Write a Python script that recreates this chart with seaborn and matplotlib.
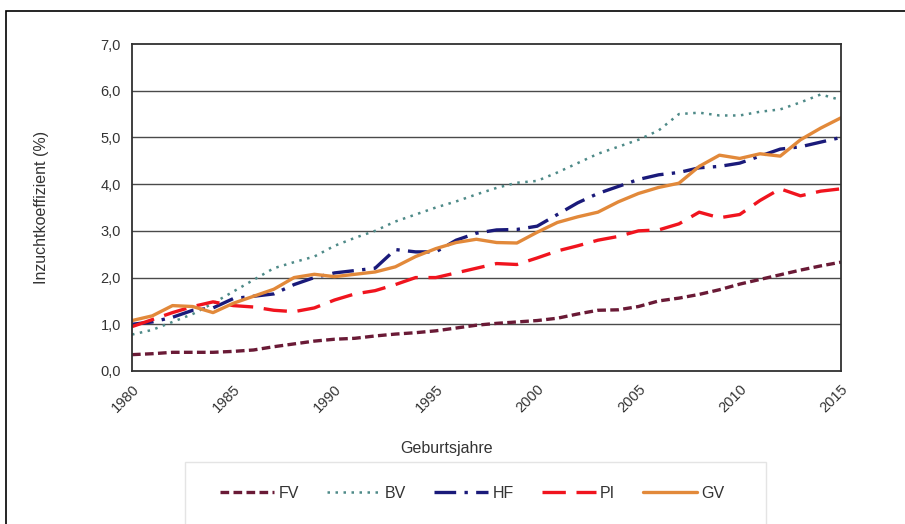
import numpy as np
import pandas as pd
import matplotlib
matplotlib.use("Agg")
import matplotlib.pyplot as plt
from matplotlib.patches import Rectangle
from matplotlib.ticker import FuncFormatter
import seaborn as sns

years = list(range(1980, 2016))
FV = [0.35, 0.37, 0.40, 0.40, 0.40, 0.42, 0.45, 0.52, 0.58, 0.64, 0.68, 0.70, 0.75, 0.79, 0.82, 0.86,
      0.92, 0.98, 1.02, 1.05, 1.08, 1.13, 1.22, 1.30, 1.31, 1.38, 1.50, 1.56, 1.64, 1.74, 1.86, 1.96,
      2.06, 2.16, 2.25, 2.33]
BV = [0.78, 0.88, 1.05, 1.22, 1.45, 1.70, 1.95, 2.20, 2.33, 2.45, 2.68, 2.85, 3.00, 3.20, 3.35, 3.50,
      3.63, 3.78, 3.92, 4.03, 4.07, 4.25, 4.45, 4.65, 4.80, 4.95, 5.15, 5.50, 5.53, 5.47, 5.47, 5.55,
      5.60, 5.75, 5.92, 5.80]
HF = [1.00, 1.05, 1.15, 1.30, 1.35, 1.55, 1.60, 1.65, 1.85, 2.00, 2.10, 2.15, 2.20, 2.60, 2.55, 2.55,
      2.80, 2.95, 3.02, 3.03, 3.10, 3.35, 3.60, 3.80, 3.95, 4.10, 4.20, 4.25, 4.35, 4.38, 4.45, 4.60,
      4.75, 4.80, 4.90, 5.00]
PI = [0.95, 1.10, 1.25, 1.38, 1.48, 1.40, 1.37, 1.30, 1.27, 1.35, 1.52, 1.65, 1.72, 1.85, 2.00, 2.00,
      2.10, 2.20, 2.30, 2.28, 2.42, 2.57, 2.68, 2.80, 2.88, 3.00, 3.02, 3.15, 3.40, 3.28, 3.35, 3.65,
      3.90, 3.75, 3.85, 3.90]
GV = [1.08, 1.18, 1.40, 1.38, 1.25, 1.45, 1.60, 1.75, 2.00, 2.07, 2.02, 2.07, 2.12, 2.23, 2.45, 2.62,
      2.75, 2.82, 2.75, 2.74, 2.97, 3.18, 3.30, 3.40, 3.62, 3.80, 3.93, 4.02, 4.38, 4.62, 4.55, 4.65,
      4.60, 4.95, 5.20, 5.42]

series_names = ["FV", "BV", "HF", "PI", "GV"]
series_values = [FV, BV, HF, PI, GV]
y_ticks = [0, 1, 2, 3, 4, 5, 6, 7]
x_label_years = [1980, 1985, 1990, 1995, 2000, 2005, 2010, 2015]

df = pd.DataFrame({"Jahr": years * len(series_names),
                   "Wert": sum(series_values, []),
                   "Serie": sum([[n] * len(years) for n in series_names], [])})

sns.set_theme(style="white")
plt.rcParams["font.family"] = ["Liberation Sans Narrow", "Liberation Sans", "DejaVu Sans"]

W, H = 905, 524
fig = plt.figure(figsize=(W / 100, H / 100), dpi=100)
fig.patch.set_facecolor("white")
ax = fig.add_axes([132 / W, 1 - 371 / H, (841 - 132) / W, (371 - 44) / H])

styles = {
    "FV": dict(color="#6A1A36", lw=2.4, ls=(0, (2.6, 1.3))),
    "BV": dict(color="#4E8A88", lw=1.8, ls=(0, (1.0, 2.2))),
    "HF": dict(color="#1A1A7A", lw=2.4, ls=(0, (6.5, 2.5, 1.0, 2.5))),
    "PI": dict(color="#F0141E", lw=2.4, ls=(0, (7.0, 3.2))),
    "GV": dict(color="#E2893A", lw=2.4, ls="-"),
}

for name in series_names:
    st = styles[name]
    sub = df[df["Serie"] == name]
    sns.lineplot(data=sub, x="Jahr", y="Wert", ax=ax, color=st["color"], linewidth=st["lw"],
                 linestyle=st["ls"], label=name, legend=False)

txt_col = "#333333"
ax.set_xlim(1980, 2015)
ax.set_ylim(0, 7)
ax.set_yticks(y_ticks)
ax.yaxis.set_major_formatter(FuncFormatter(lambda v, p: f"{v:.1f}".replace(".", ",")))
ax.set_xticks(years)
ax.set_xticklabels([str(y) if y in x_label_years else "" for y in years])
for lab in ax.get_xticklabels():
    lab.set_rotation(45)
    lab.set_ha("right")
    lab.set_rotation_mode("anchor")
ax.tick_params(axis="both", which="major", direction="out", length=5, width=1, color="#303030",
               labelsize=10.5, labelcolor=txt_col)
ax.tick_params(axis="x", pad=3)
ax.tick_params(axis="y", pad=3)
ax.grid(False)
for v in y_ticks[1:-1]:
    ax.axhline(v, color="#4a4a4a", lw=1.0, zorder=0)
for sp in ax.spines.values():
    sp.set_color("#303030")
    sp.set_linewidth(1.3)
    sp.set_visible(True)
ax.set_xlabel("")
ax.set_ylabel("Inzuchtkoeffizient (%)", fontsize=11.5, color=txt_col, labelpad=37)

fig.text(447 / W, 1 - 449 / H, "Geburtsjahre", fontsize=11.5, color=txt_col,
         ha="center", va="center")

# outer border
fig.patches.append(Rectangle((6 / W, -0.1), 1.2, 1 - 11 / H + 0.1, transform=fig.transFigure,
                             fill=False, edgecolor="black", lw=1.2))
# legend frame
fig.patches.append(Rectangle((185 / W, -0.1), (766 - 185) / W, 1 - 462 / H + 0.1,
                             transform=fig.transFigure, fill=False, edgecolor="#e4e4e4", lw=1.0))

handles, labels = ax.get_legend_handles_labels()
leg = fig.legend(handles, labels, loc="center left", bbox_to_anchor=(220 / W, 1 - 493 / H),
                 ncol=5, frameon=False, fontsize=11.5, handlelength=3.4, handletextpad=0.25,
                 columnspacing=1.75, borderpad=0, borderaxespad=0)
for t in leg.get_texts():
    t.set_color(txt_col)

fig.savefig("out.png", dpi=100, facecolor="white")
